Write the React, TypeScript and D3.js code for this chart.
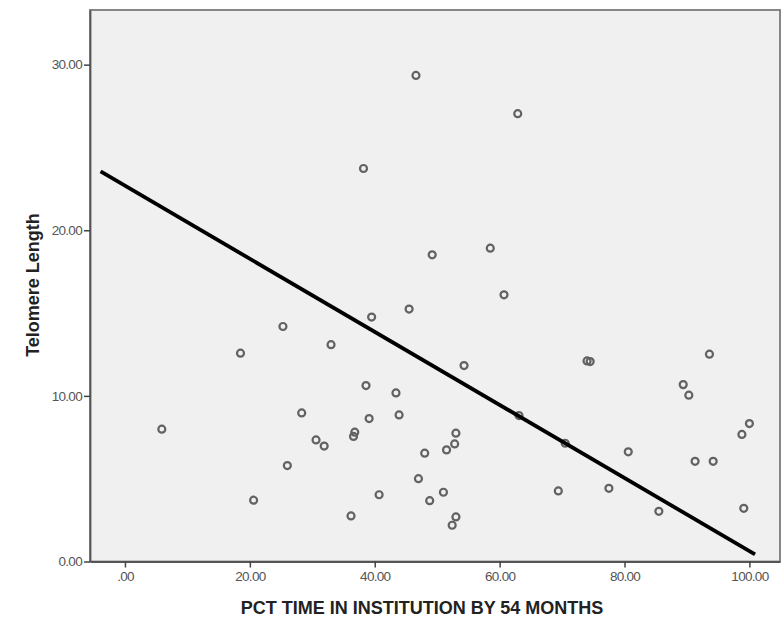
import React, { useEffect, useRef } from "react";
import * as d3 from "d3";

// percent time in institution (x) vs telomere length (y)
const pctTime = [
  5.9, 18.5, 25.3, 33.0, 28.3, 30.6, 31.9, 26.0, 20.6, 39.5, 45.5, 54.3, 38.6,
  43.4, 39.1, 43.9, 36.8, 36.6, 53.0, 52.8, 51.5, 48.0, 63.1, 70.5, 47.0, 40.7,
  48.8, 51.0, 69.4, 36.2, 53.0, 52.4, 74.0, 74.5, 93.6, 89.4, 90.3, 100.0, 98.8,
  80.6, 91.3, 94.2, 77.5, 85.5, 99.1, 46.6, 62.9, 38.2, 49.2, 58.5, 60.7,
];
const telomere = [
  7.99, 12.58, 14.19, 13.09, 8.97, 7.34, 6.97, 5.79, 3.7, 14.76, 15.24, 11.83,
  10.62, 10.18, 8.63, 8.85, 7.81, 7.55, 7.75, 7.1, 6.74, 6.54, 8.81, 7.14, 5.0,
  4.03, 3.67, 4.18, 4.26, 2.75, 2.69, 2.19, 12.11, 12.07, 12.52, 10.68, 10.04,
  8.33, 7.67, 6.62, 6.05, 6.05, 4.42, 3.03, 3.21, 29.35, 27.04, 23.73, 18.52,
  18.92, 16.1,
];

const xTicks = [0, 20, 40, 60, 80, 100];
const yTicks = [0, 10, 20, 30];

// fit line
const fitIntercept = 22.69;
const fitSlope = -0.2206;
const fitRange = [-3.9, 100.9];

const fmt = (v: number) => (v === 0 ? ".00" : d3.format(".2f")(v));
const font = "Liberation Sans, Arial, sans-serif";

export default function App() {
  const ref = useRef<SVGSVGElement>(null);

  useEffect(() => {
    const svg = d3.select(ref.current);
    svg.selectAll("*").remove();

    const x = d3.scaleLinear().domain([-5.6, 104.9]).range([90, 780]);
    const y = d3.scaleLinear().domain([0, 33.3]).range([561.5, 10]);

    svg
      .append("rect")
      .attr("x", 90)
      .attr("y", 10)
      .attr("width", 690)
      .attr("height", 551.5)
      .attr("fill", "#f0f0f0")
      .attr("stroke", "#7a7a7a")
      .attr("stroke-width", 1.8);

    const yAxis = svg
      .append("g")
      .attr("transform", "translate(90,0)")
      .call(
        d3
          .axisLeft(y)
          .tickValues(yTicks)
          .tickSize(6)
          .tickSizeOuter(0)
          .tickPadding(2)
          .tickFormat((d) => d3.format(".2f")(d as number))
      );
    yAxis.select(".domain").attr("stroke", "#555").attr("stroke-width", 1.8);
    yAxis.selectAll("line").attr("stroke", "#444").attr("stroke-width", 1.5);
    yAxis
      .selectAll("text")
      .attr("fill", "#555")
      .style("font-family", font)
      .style("font-size", "13.5px")
      .style("letter-spacing", "-0.7px");

    const xAxis = svg
      .append("g")
      .attr("transform", "translate(0,561.5)")
      .call(
        d3
          .axisBottom(x)
          .tickValues(xTicks)
          .tickSize(6)
          .tickSizeOuter(0)
          .tickPadding(4)
          .tickFormat((d) => fmt(d as number))
      );
    xAxis.select(".domain").attr("stroke", "#555").attr("stroke-width", 1.8);
    xAxis.selectAll("line").attr("stroke", "#444").attr("stroke-width", 1.5);
    xAxis
      .selectAll("text")
      .attr("fill", "#555")
      .style("font-family", font)
      .style("font-size", "13.5px")
      .style("letter-spacing", "-0.7px");

    svg
      .append("g")
      .selectAll("circle")
      .data(pctTime.map((v, i) => [v, telomere[i]]))
      .join("circle")
      .attr("cx", (d) => x(d[0]))
      .attr("cy", (d) => y(d[1]))
      .attr("r", 3.5)
      .attr("fill", "none")
      .attr("stroke", "#626262")
      .attr("stroke-width", 2.2);

    svg
      .append("path")
      .datum(fitRange)
      .attr("fill", "none")
      .attr("stroke", "#000")
      .attr("stroke-width", 3.8)
      .attr(
        "d",
        d3
          .line<number>()
          .x((d) => x(d))
          .y((d) => y(fitIntercept + fitSlope * d))
      );

    svg
      .append("text")
      .attr("transform", "translate(39,285) rotate(-90)")
      .attr("text-anchor", "middle")
      .style("font-family", font)
      .style("font-weight", "bold")
      .style("font-size", "18px")
      .attr("fill", "#222")
      .text("Telomere Length");

    svg
      .append("text")
      .attr("x", 422)
      .attr("y", 614)
      .attr("text-anchor", "middle")
      .style("font-family", font)
      .style("font-weight", "bold")
      .style("font-size", "18px")
      .attr("fill", "#222")
      .text("PCT TIME IN INSTITUTION BY 54 MONTHS");
  }, []);

  return (
    <svg
      ref={ref}
      width={782}
      height={622}
      style={{ position: "absolute", left: 0, top: 0, background: "#fff" }}
    />
  );
}
